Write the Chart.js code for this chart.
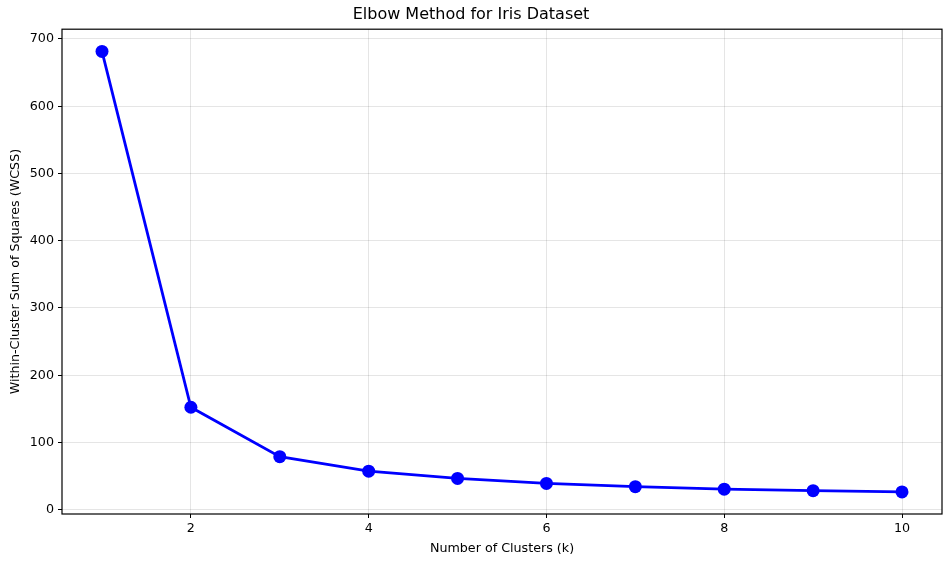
<!DOCTYPE html>
<html>
<head>
<meta charset="utf-8">
<script src="https://cdn.jsdelivr.net/npm/chart.js@4/dist/chart.umd.min.js"></script>
<style>
  html, body { margin: 0; padding: 0; background: #fff; }
  #wrap { width: 950px; height: 566px; }
</style>
</head>
<body>
<div id="wrap"><canvas id="chart"></canvas></div>
<script>
const clusters = [1, 2, 3, 4, 5, 6, 7, 8, 9, 10];
const wcss = [681.4, 152.3, 78.9, 57.3, 46.5, 39.0, 34.3, 30.5, 28.3, 26.5];
const xTicks = [2, 4, 6, 8, 10];
const yTicks = [0, 100, 200, 300, 400, 500, 600, 700];

const font = "'DejaVu Sans', sans-serif";

// full black frame round the plot, like matplotlib spines
const frame = {
  id: "frame",
  afterDraw(chart) {
    const { ctx, chartArea: a } = chart;
    ctx.save();
    ctx.strokeStyle = "#000";
    ctx.lineWidth = 1.2;
    ctx.strokeRect(a.left, a.top, a.right - a.left, a.bottom - a.top);
    ctx.restore();
  },
};

new Chart(document.getElementById("chart"), {
  type: "line",
  data: {
    datasets: [
      {
        data: clusters.map((k, i) => ({ x: k, y: wcss[i] })),
        borderColor: "#0000ff",
        backgroundColor: "#0000ff",
        borderWidth: 2.8,
        pointRadius: 6.5,
        pointHoverRadius: 6.5,
        pointBorderWidth: 0,
        fill: false,
        tension: 0,
      },
    ],
  },
  options: {
    responsive: true,
    maintainAspectRatio: false,
    animation: false,
    layout: { padding: { left: 0, right: 8, top: 0, bottom: 0 } },
    plugins: {
      legend: { display: false },
      tooltip: { enabled: false },
      title: {
        display: true,
        text: "Elbow Method for Iris Dataset",
        color: "#000",
        font: { family: font, size: 16, weight: "normal" },
        padding: { top: 5, bottom: 5 },
      },
    },
    scales: {
      x: {
        type: "linear",
        min: 0.55,
        max: 10.45,
        afterBuildTicks: (s) => { s.ticks = xTicks.map((v) => ({ value: v })); },
        afterFit: (s) => { s.height = 52; },
        grid: {
          color: "rgba(0,0,0,0.1)",
          tickColor: "#000",
          tickLength: 4,
          lineWidth: 1,
        },
        border: { display: false },
        ticks: { color: "#000", padding: 3, font: { family: font, size: 12.7 } },
        title: {
          display: true,
          text: "Number of Clusters (k)",
          color: "#000",
          font: { family: font, size: 12.7 },
          padding: { top: 3, bottom: 10 },
        },
      },
      y: {
        type: "linear",
        min: -6.4,
        max: 714.5,
        afterBuildTicks: (s) => { s.ticks = yTicks.map((v) => ({ value: v })); },
        afterFit: (s) => { s.width = 62; },
        grid: {
          color: "rgba(0,0,0,0.1)",
          tickColor: "#000",
          tickLength: 4,
          lineWidth: 1,
        },
        border: { display: false },
        ticks: { color: "#000", padding: 4, font: { family: font, size: 12.7 } },
        title: {
          display: true,
          text: "Within-Cluster Sum of Squares (WCSS)",
          color: "#000",
          font: { family: font, size: 12.7 },
          padding: { top: 8, bottom: 0 },
        },
      },
    },
  },
  plugins: [frame],
});
</script>
</body>
</html>
